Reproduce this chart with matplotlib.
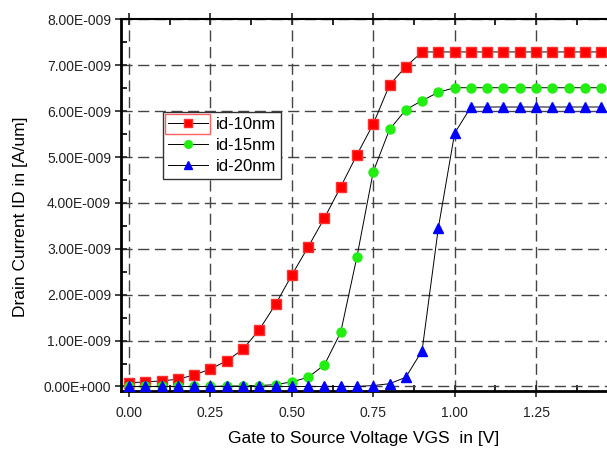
import matplotlib.pyplot as plt
from matplotlib.patches import Rectangle
from matplotlib.ticker import MultipleLocator, FuncFormatter

plt.rcParams['font.family'] = ['Liberation Sans', 'DejaVu Sans']

vgs = [0.00, 0.05, 0.10, 0.15, 0.20, 0.25, 0.30, 0.35, 0.40, 0.45,
       0.50, 0.55, 0.60, 0.65, 0.70, 0.75, 0.80, 0.85, 0.90, 0.95,
       1.00, 1.05, 1.10, 1.15, 1.20, 1.25, 1.30, 1.35, 1.40, 1.45]

# values in units of 1e-9 A/um
id_10 = [0.08, 0.10, 0.12, 0.16, 0.25, 0.38, 0.56, 0.81, 1.24, 1.79,
         2.43, 3.04, 3.67, 4.35, 5.05, 5.72, 6.57, 6.97, 7.29, 7.29,
         7.29, 7.29, 7.29, 7.29, 7.29, 7.29, 7.29, 7.29, 7.29, 7.29]
id_15 = [0.00, 0.00, 0.00, 0.00, 0.00, 0.00, 0.01, 0.01, 0.02, 0.04,
         0.10, 0.20, 0.47, 1.18, 2.83, 4.68, 5.60, 6.03, 6.23, 6.41,
         6.51, 6.51, 6.51, 6.51, 6.51, 6.51, 6.51, 6.51, 6.51, 6.51]
id_20 = [0.00, 0.00, 0.00, 0.00, 0.00, 0.00, 0.00, 0.00, 0.00, 0.00,
         0.00, 0.00, 0.00, 0.00, 0.00, 0.02, 0.06, 0.20, 0.78, 3.46,
         5.52, 6.09, 6.09, 6.09, 6.09, 6.09, 6.09, 6.09, 6.09, 6.09]

labels = ['id-10nm', 'id-15nm', 'id-20nm']


def sci(v, pos):
    if abs(v) < 1e-15:
        return '0.00E+000'
    s = '%.2E' % v
    m, e = s.split('E')
    return '%sE%s%03d' % (m, e[0], abs(int(e)))


fig = plt.figure(figsize=(6.07, 4.5), dpi=100)
ax = fig.add_axes([0.199, 0.132, 0.801, 0.825])

ax.plot(vgs, [v * 1e-9 for v in id_10], '-', color='k', lw=0.7,
        marker='s', ms=6.5, mfc='#ff0000', mec='#ff3030', label=labels[0], zorder=3)
ax.plot(vgs, [v * 1e-9 for v in id_15], '-', color='k', lw=0.7,
        marker='o', ms=6.5, mfc='#22ee11', mec='#22ee11', label=labels[1], zorder=3)
ax.plot(vgs, [v * 1e-9 for v in id_20], '-', color='k', lw=0.7,
        marker='^', ms=7.5, mfc='#0000ff', mec='#0000ff', label=labels[2], zorder=3)

ax.set_xlim(-0.0255, 1.468)
ax.set_ylim(-0.09e-9, 8e-9)

ax.xaxis.set_major_locator(MultipleLocator(0.25))
ax.xaxis.set_minor_locator(MultipleLocator(0.125))
ax.yaxis.set_major_locator(MultipleLocator(1e-9))
ax.yaxis.set_minor_locator(MultipleLocator(0.5e-9))
ax.xaxis.set_major_formatter(FuncFormatter(lambda v, p: '%.2f' % v))
ax.yaxis.set_major_formatter(FuncFormatter(sci))

ax.tick_params(which='major', direction='inout', length=8, width=1.2,
               labelsize=10, colors='#222222', top=True)
ax.tick_params(which='minor', direction='in', length=4, width=1.2, top=True)
ax.tick_params(axis='x', which='major', pad=7)
ax.tick_params(axis='y', which='major', pad=3)

ax.grid(True, which='major', color='#444444', lw=1.0, linestyle=(0, (8, 4)))

for s in ['left', 'bottom']:
    ax.spines[s].set_linewidth(2.0)
ax.spines['top'].set_linewidth(1.5)
ax.spines['right'].set_visible(False)

ax.set_xlabel('Gate to Source Voltage VGS  in [V]', fontsize=12.5, labelpad=8)
ax.set_ylabel('Drain Current ID in [A/um]', fontsize=12.5)
ax.yaxis.set_label_coords(-0.19, 0.468)

leg = ax.legend(loc='upper left', bbox_to_anchor=(0.086, 0.75), borderaxespad=0,
                fancybox=False, edgecolor='#333333', framealpha=1, fontsize=12,
                handlelength=2.4, handletextpad=0.5, labelspacing=0.35,
                borderpad=0.3, markerscale=0.85)
leg.get_frame().set_linewidth(1.0)

# selection highlight around the first legend symbol
fig.canvas.draw()
r = fig.canvas.get_renderer()
fb = leg.get_frame().get_window_extent(r)
tb = leg.get_texts()[0].get_window_extent(r)
inv = fig.transFigure.inverted()
(x0, y0), (x1, y1) = inv.transform([(fb.x0 + 2, tb.y0 - 2), (tb.x0 - 6, fb.y1 - 2)])
fig.add_artist(Rectangle((x0, y0), x1 - x0, y1 - y0, transform=fig.transFigure,
                         fill=False, edgecolor='#ff6060', lw=1.0, zorder=10))

fig.savefig('out.png', dpi=100)
